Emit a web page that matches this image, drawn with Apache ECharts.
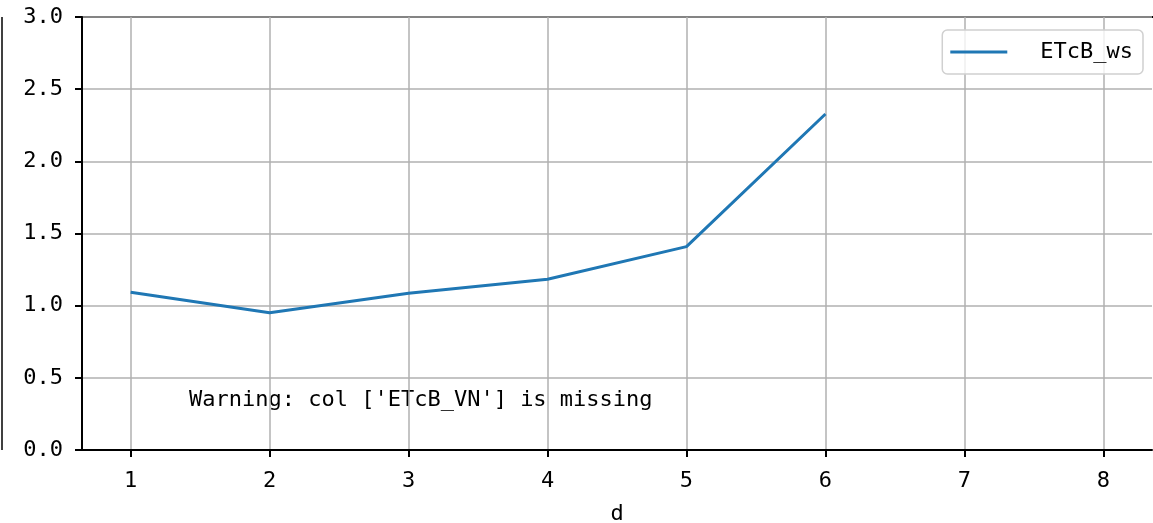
<!DOCTYPE html>
<html>
<head>
<meta charset="utf-8">
<script src="https://cdn.jsdelivr.net/npm/echarts@6/dist/echarts.min.js"></script>
<style>html,body{margin:0;padding:0;background:#fff;}#chart{width:1153px;height:523px;}</style>
</head>
<body>
<div id="chart"></div>
<script>
const xValues = [1, 2, 3, 4, 5, 6];
const seriesName = 'ETcB_ws';
const yValues = [1.093, 0.951, 1.086, 1.183, 1.409, 2.328];
const xTicks = [1, 2, 3, 4, 5, 6, 7, 8];
const yTicks = [0, 0.5, 1.0, 1.5, 2.0, 2.5, 3.0];
const warningText = "Warning: col ['ETcB_VN'] is missing";
const xLabel = 'd';

const FONT = '"DejaVu Sans Mono", monospace';
const chart = echarts.init(document.getElementById('chart'));
const data = xValues.map((x, i) => [x, yValues[i]]);
chart.setOption({
  animation: false,
  backgroundColor: '#fff',
  grid: { left: 82, right: 1, top: 17, bottom: 73, containLabel: false, outerBoundsMode: 'none' },
  xAxis: {
    type: 'value', min: 0.65, max: 8.35,
    name: xLabel, nameLocation: 'middle', nameGap: 53,
    nameTextStyle: { fontFamily: FONT, fontSize: 22, color: '#000' },
    axisLine: { show: true, onZero: false, lineStyle: { color: '#000', width: 2 } },
    axisTick: { show: true, customValues: xTicks, length: 7, lineStyle: { color: '#000', width: 2 } },
    axisLabel: { customValues: xTicks, margin: 20, fontFamily: FONT, fontSize: 22, color: '#000', formatter: v => String(v) },
    splitLine: { show: true, lineStyle: { color: '#b0b0b0', width: 1.5 } }
  },
  yAxis: {
    type: 'value', min: 0, max: 3, interval: 0.5,
    axisLine: { show: true, lineStyle: { color: '#000', width: 2 } },
    axisTick: { show: true, length: 7, lineStyle: { color: '#000', width: 2 } },
    axisLabel: { margin: 19, fontFamily: FONT, fontSize: 22, color: '#000', formatter: v => v.toFixed(1) },
    splitLine: { show: true, lineStyle: { color: '#b0b0b0', width: 1.5 } }
  },
  legend: {
    show: true, right: 10, top: 30,
    orient: 'vertical',
    data: [{ name: seriesName, icon: 'rect' }],
    itemWidth: 57, itemHeight: 3, itemGap: 10,
    padding: [11, 10, 11, 8],
    borderColor: '#d0d0d0', borderWidth: 1.5, borderRadius: 5,
    backgroundColor: 'rgba(255,255,255,0.8)',
    textStyle: { fontFamily: FONT, fontSize: 22, color: '#000', padding: [0, 0, 0, 28] }
  },
  series: [{
    name: seriesName, type: 'line', data: data,
    showSymbol: false, symbol: 'none',
    lineStyle: { color: '#1f77b4', width: 3 },
    itemStyle: { color: '#1f77b4' }
  }],
  graphic: [
    { type: 'text', left: 189, top: 389, style: { text: warningText, font: '22px ' + FONT, fill: '#000' } },
    { type: 'line', shape: { x1: 2, y1: 17, x2: 2, y2: 450 }, style: { stroke: '#000', lineWidth: 1.5 } },
    { type: 'line', shape: { x1: 82, y1: 17, x2: 1153, y2: 17 }, style: { stroke: '#000', lineWidth: 2 } }
  ]
});
</script>
</body>
</html>
